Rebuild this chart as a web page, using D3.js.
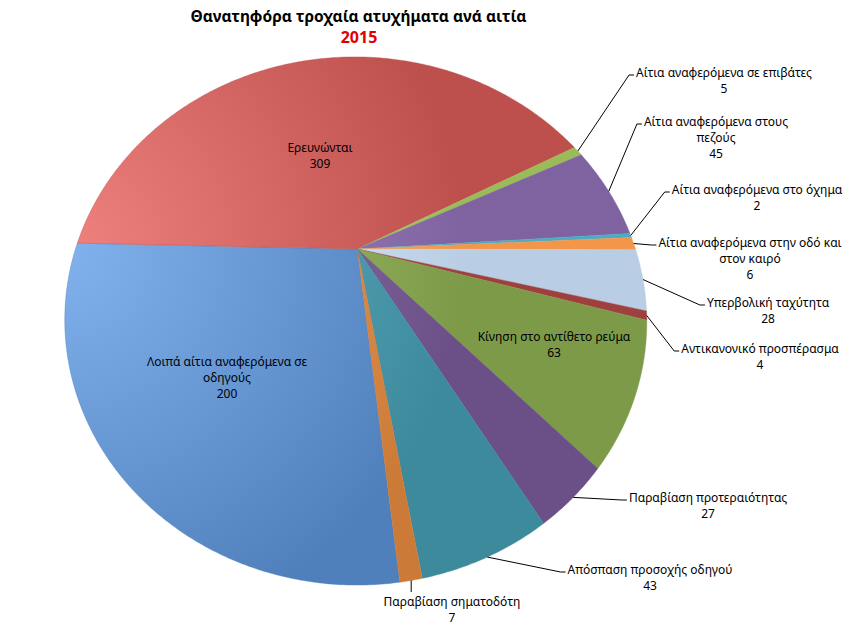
<!DOCTYPE html>
<html>
<head>
<meta charset="utf-8">
<script src="https://cdn.jsdelivr.net/npm/d3@7"></script>
<style>
  body { margin: 0; background: #fff; }
  text { font-family: "Noto Sans", sans-serif; }
</style>
</head>
<body>
<div id="wrapper"></div>
<script>
// data (Excel order, clockwise)
const categories = [
  "Λοιπά αίτια αναφερόμενα  σε οδηγούς",
  "Ερευνώνται",
  "Αίτια αναφερόμενα σε επιβάτες",
  "Αίτια αναφερόμενα στους πεζούς",
  "Αίτια αναφερόμενα στο όχημα",
  "Αίτια αναφερόμενα στην οδό και στον καιρό",
  "Υπερβολική ταχύτητα",
  "Αντικανονικό προσπέρασμα",
  "Κίνηση στο αντίθετο ρεύμα",
  "Παραβίαση προτεραιότητας",
  "Απόσπαση προσοχής οδηγού",
  "Παραβίαση σηματοδότη",
];
const values = [200, 309, 5, 45, 2, 6, 28, 4, 63, 27, 43, 7];
// where each category name wraps in its label
const labelLines = [
  ["Λοιπά αίτια αναφερόμενα  σε", "οδηγούς"],
  ["Ερευνώνται"],
  ["Αίτια αναφερόμενα σε επιβάτες"],
  ["Αίτια αναφερόμενα στους", "πεζούς"],
  ["Αίτια αναφερόμενα στο όχημα"],
  ["Αίτια αναφερόμενα στην οδό και", "στον καιρό"],
  ["Υπερβολική ταχύτητα"],
  ["Αντικανονικό προσπέρασμα"],
  ["Κίνηση στο αντίθετο ρεύμα"],
  ["Παραβίαση προτεραιότητας"],
  ["Απόσπαση προσοχής οδηγού"],
  ["Παραβίαση σηματοδότη"],
];
const title = "Θανατηφόρα τροχαία ατυχήματα ανά αιτία";
const subtitle = "2015";

// styles / layout
const colors = ["#4f80bc", "#bd4f4c", "#9bbb59", "#7f63a1", "#4bacc6", "#f4964a",
                "#b9cde5", "#9e413e", "#7d9a48", "#6a5087", "#3c8a9c", "#cc7a37"];
const labelPos = [
  [227, 362], [320, 148], [724, 73], [716, 122], [757, 190], [750, 243],
  [768, 303], [760, 349], [554, 337], [708, 498], [650, 570], [452, 602],
];
const insideLabels = [0, 1, 8];

const width = 847;
const height = 627;
const lineHeight = 16;

// the pie is seen tilted back with some perspective
const view = {
  cx: 357.3,
  cy: 249,
  r: 280,
  tilt: 0.873,
  persp: 0.2727,
  rot: (1.2 * Math.PI) / 180,
};

function project(a, r) {
  const px = r * Math.sin(a);
  const py = -r * Math.cos(a);
  const f = 1 / (1 - (view.persp * py) / view.r);
  const x = px * f;
  const y = py * view.tilt * f;
  return [
    view.cx + x * Math.cos(view.rot) - y * Math.sin(view.rot),
    view.cy + x * Math.sin(view.rot) + y * Math.cos(view.rot),
  ];
}

const total = d3.sum(values);
const startAngle = -Math.PI / 2 - (values[0] / total) * 2 * Math.PI;
const arcs = d3
  .pie()
  .sort(null)
  .value((d) => d)
  .startAngle(startAngle)
  .endAngle(startAngle + 2 * Math.PI)(values);

const svg = d3
  .select("#wrapper")
  .append("svg")
  .attr("width", width)
  .attr("height", height);

const defs = svg.append("defs");
colors.forEach((c, i) => {
  const base = d3.rgb(c);
  const light = d3.rgb(base.r + 50, base.g + 50, base.b + 50);
  const g = defs
    .append("radialGradient")
    .attr("id", "grad" + i)
    .attr("gradientUnits", "userSpaceOnUse")
    .attr("cx", 65)
    .attr("cy", 250)
    .attr("r", 400);
  g.append("stop").attr("offset", 0).attr("stop-color", light.formatHex());
  g.append("stop").attr("offset", 1).attr("stop-color", base.formatHex());
});

const line = d3.line();
function slicePath(d) {
  const step = Math.PI / 360;
  const n = Math.max(2, Math.ceil((d.endAngle - d.startAngle) / step));
  const pts = [[view.cx, view.cy]];
  for (let j = 0; j <= n; j++) {
    pts.push(project(d.startAngle + ((d.endAngle - d.startAngle) * j) / n, view.r));
  }
  return line(pts) + "Z";
}

svg
  .append("g")
  .selectAll("path")
  .data(arcs)
  .join("path")
  .attr("d", slicePath)
  .attr("fill", (d, i) => `url(#grad${i})`)
  .attr("stroke", (d, i) => colors[i])
  .attr("stroke-width", 0.4);

// title
svg
  .append("text")
  .attr("x", 358.5)
  .attr("y", 22)
  .attr("text-anchor", "middle")
  .style("font-size", "15.5px")
  .style("font-weight", "bold")
  .text(title);
svg
  .append("text")
  .attr("x", 359)
  .attr("y", 43)
  .attr("text-anchor", "middle")
  .style("font-size", "16px")
  .style("font-weight", "bold")
  .attr("fill", "#e00000")
  .text(subtitle);

// data labels
const labels = svg.append("g").selectAll("g").data(arcs).join("g");

labels.each(function (d, i) {
  const g = d3.select(this);
  const [lx, ly] = labelPos[i];
  const rows = labelLines[i].concat([String(values[i])]);
  const texts = g
    .selectAll("text")
    .data(rows)
    .join("text")
    .attr("x", lx)
    .attr("y", (t, k) => ly + 4 + k * lineHeight)
    .attr("text-anchor", "middle")
    .style("font-size", "12px")
    .attr("fill", "#000")
    .text((t) => t);

  if (insideLabels.includes(i)) return;

  const w = d3.max(texts.nodes(), (n) => n.getComputedTextLength());
  const boxLeft = lx - w / 2 - 2;
  const boxRight = lx + w / 2 + 2;
  const edge = project((d.startAngle + d.endAngle) / 2, view.r);
  let pts;
  if (edge[0] > boxLeft && edge[0] < boxRight) {
    pts = [edge, [edge[0], ly - 10]];
  } else {
    const yl = ly + 2;
    pts = [edge, [boxLeft - 5, yl], [boxLeft, yl]];
  }
  g.append("path")
    .attr("d", line(pts))
    .attr("fill", "none")
    .attr("stroke", "#000")
    .attr("stroke-width", 1);
});
</script>
</body>
</html>
